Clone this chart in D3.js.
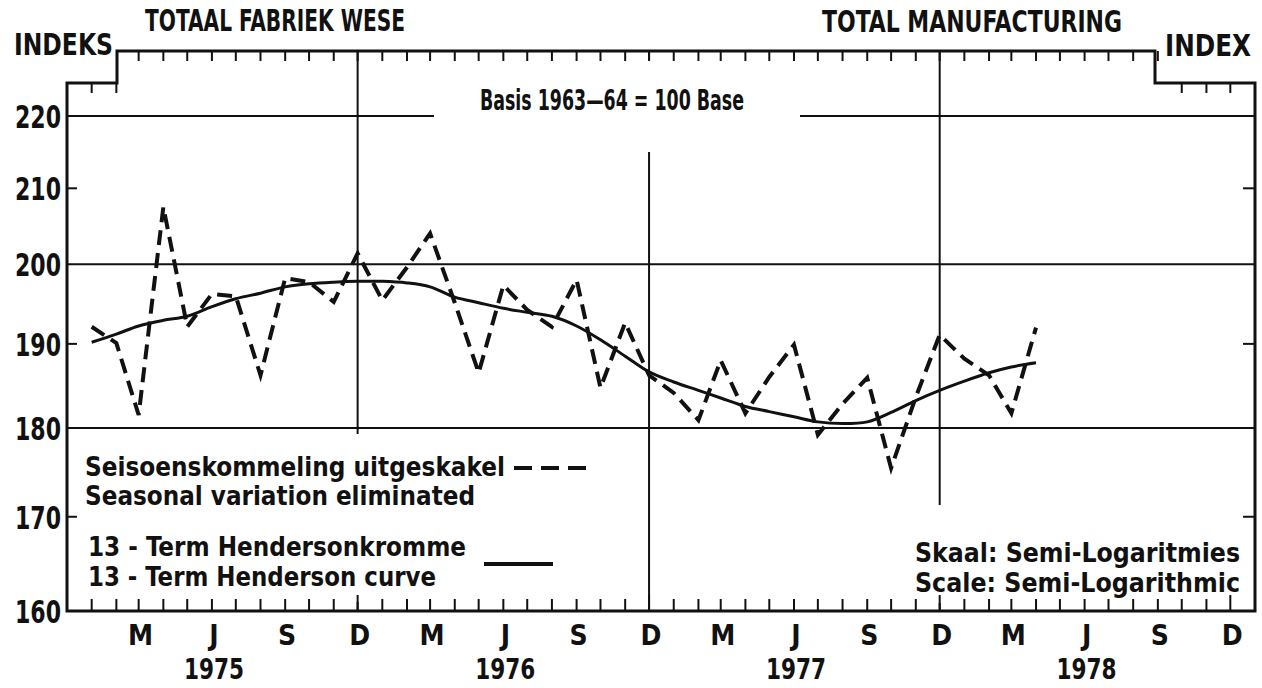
<!DOCTYPE html>
<html>
<head>
<meta charset="utf-8">
<script src="https://cdn.jsdelivr.net/npm/d3@7"></script>
<style>
  body { margin: 0; background: #fff; }
  svg text { font-family: "Liberation Sans Narrow", "DejaVu Sans Condensed", "Roboto", sans-serif; fill: #111; }
</style>
</head>
<body>
<div id="chart"></div>
<script>
// months of the two series (first of month)
const months = ["1975-01","1975-02","1975-03","1975-04","1975-05","1975-06","1975-07","1975-08","1975-09","1975-10","1975-11","1975-12",
  "1976-01","1976-02","1976-03","1976-04","1976-05","1976-06","1976-07","1976-08","1976-09","1976-10","1976-11","1976-12",
  "1977-01","1977-02","1977-03","1977-04","1977-05","1977-06","1977-07","1977-08","1977-09","1977-10","1977-11","1977-12",
  "1978-01","1978-02","1978-03","1978-04"];

// seasonally adjusted index (dashed)
const seasonal = [192.1, 190.1, 181.5, 207.5, 192.1, 196.2, 195.9, 186.2, 198.2, 197.7, 195.2, 201.4,
  195.4, 199.6, 204.0, 195.1, 186.5, 197.3, 194.2, 192.1, 198.0, 184.7, 192.6, 186.2,
  184.1, 180.9, 188.0, 181.7, 186.0, 189.9, 179.2, 182.8, 185.9, 175.4, 183.6, 191.1,
  188.2, 186.2, 181.7, 192.0];

// 13-term Henderson trend (solid)
const henderson = [190.2, 191.2, 192.2, 192.9, 193.4, 194.6, 195.6, 196.3, 197.1, 197.5, 197.7, 197.8,
  197.8, 197.6, 197.1, 195.8, 195.1, 194.4, 193.9, 193.4, 192.2, 190.5, 188.5, 186.6,
  185.4, 184.4, 183.5, 182.5, 181.9, 181.3, 180.7, 180.5, 180.7, 181.8, 183.2, 184.4,
  185.5, 186.5, 187.2, 187.7];

const yTicks = [160, 170, 180, 190, 200, 210, 220];
const yGrid = [180, 200, 220];
const monthLabels = ["M", "J", "S", "D"];
const monthLabelMonths = [2, 5, 8, 11];
const years = [1975, 1976, 1977, 1978];

const parseMonth = d3.timeParse("%Y-%m");
const W = 1262, H = 688;
const plotLeft = 67, plotRight = 1255, plotTop = 51, stepY = 83, plotBottom = 611;

const svg = d3.select("#chart").append("svg")
  .attr("width", W).attr("height", H);

const x = d3.scaleTime()
  .domain([new Date(1974, 11, 1), new Date(1979, 0, 1)])
  .range([plotLeft, plotRight]);
const y = d3.scaleLog()
  .domain([160, 220])
  .range([plotBottom, 116]);

const allMonths = d3.timeMonth.range(new Date(1975, 0, 1), new Date(1979, 0, 1));

// gridlines
const grid = svg.append("g").attr("stroke", "#111").attr("stroke-width", 2);
grid.selectAll("line.h").data(yGrid).enter().append("line")
  .attr("x1", plotLeft).attr("x2", plotRight)
  .attr("y1", d => y(d)).attr("y2", d => y(d));
grid.selectAll("line.v").data(years.slice(0, 3)).enter().append("line")
  .attr("x1", d => x(new Date(d, 11, 1))).attr("x2", d => x(new Date(d, 11, 1)))
  .attr("y1", plotTop).attr("y2", plotBottom);

// white boxes behind the texts
const boxes = [
  { x: 434, y: 60, w: 366, h: 92 },
  { x: 70, y: 434, w: 530, h: 168 },
  { x: 902, y: 505, w: 345, h: 98 }
];
svg.selectAll("rect.box").data(boxes).enter().append("rect")
  .attr("x", d => d.x).attr("y", d => d.y).attr("width", d => d.w).attr("height", d => d.h)
  .attr("fill", "#fff");

// frame
svg.append("path")
  .attr("d", `M${plotLeft},${plotBottom}V${stepY}H117V${plotTop}H1155V${stepY}H${plotRight}V${plotBottom}Z`)
  .attr("fill", "none").attr("stroke", "#111").attr("stroke-width", 3);

// month ticks: top and bottom
svg.append("g").selectAll("line").data(allMonths).enter().append("line")
  .attr("x1", d => x(d)).attr("x2", d => x(d))
  .attr("y1", plotBottom).attr("y2", d => plotBottom - (d.getMonth() === 11 ? 16 : 12))
  .attr("stroke", "#111").attr("stroke-width", 2);
const onStep = d => x(d) < 117 || x(d) > 1160;
svg.append("g").selectAll("line").data(allMonths.filter(d => x(d) < plotRight - 5)).enter().append("line")
  .attr("x1", d => x(d)).attr("x2", d => x(d))
  .attr("y1", d => onStep(d) ? stepY : plotTop)
  .attr("y2", d => (onStep(d) ? stepY : plotTop) + 10)
  .attr("stroke", "#111").attr("stroke-width", 2);

// minor y ticks left and right
const minor = yTicks.filter(v => !yGrid.includes(v) && v !== 160);
svg.append("g").selectAll("line").data(minor).enter().append("line")
  .attr("x1", plotLeft).attr("x2", plotLeft + 10).attr("y1", d => y(d)).attr("y2", d => y(d))
  .attr("stroke", "#111").attr("stroke-width", 2);
svg.append("g").selectAll("line").data(minor).enter().append("line")
  .attr("x1", plotRight - 12).attr("x2", plotRight).attr("y1", d => y(d)).attr("y2", d => y(d))
  .attr("stroke", "#111").attr("stroke-width", 2);

// y labels
svg.append("g").selectAll("text").data(yTicks).enter().append("text")
  .attr("x", 61).attr("y", d => y(d) + 12)
  .attr("text-anchor", "end")
  .attr("textLength", 46).attr("lengthAdjust", "spacingAndGlyphs")
  .style("font-size", "32px").style("font-weight", "bold")
  .text(d => d);

// month labels and years
const labelDates = [];
years.forEach(yr => monthLabelMonths.forEach((m, i) => labelDates.push({ date: new Date(yr, m, 1), text: monthLabels[i] })));
svg.append("g").selectAll("text").data(labelDates).enter().append("text")
  .attr("x", d => x(d.date) + 2).attr("y", 645)
  .attr("text-anchor", "middle")
  .style("font-size", "28px").style("font-weight", "bold")
  .text(d => d.text);
svg.append("g").selectAll("text").data(years).enter().append("text")
  .attr("x", d => x(new Date(d, 5, 1)) + 2).attr("y", 679)
  .attr("text-anchor", "middle")
  .attr("textLength", 60).attr("lengthAdjust", "spacingAndGlyphs")
  .style("font-size", "29px").style("font-weight", "bold")
  .text(d => d);

// titles
function label(txt, x0, yb, len, size, weight) {
  svg.append("text").attr("x", x0).attr("y", yb)
    .attr("textLength", len).attr("lengthAdjust", "spacingAndGlyphs")
    .style("font-size", size + "px").style("font-weight", weight || "bold")
    .text(txt);
}
label("TOTAAL FABRIEK WESE", 145, 31, 260, 30);
label("TOTAL MANUFACTURING", 822, 32, 300, 30);
label("INDEKS", 14, 55, 99, 30);
label("INDEX", 1165, 56, 86, 30);
label("Basis 1963\u201464 = 100 Base", 480, 110, 264, 29);

// legend
label("Seisoenskommeling uitgeskakel", 85, 476, 420, 26);
label("Seasonal variation eliminated", 85, 505, 390, 26);
label("13 - Term Hendersonkromme", 88, 556, 378, 26);
label("13 - Term Henderson curve", 88, 586, 348, 26);
label("Skaal: Semi-Logaritmies", 915, 562, 325, 26);
label("Scale: Semi-Logarithmic", 915, 592, 325, 26);

svg.append("line").attr("x1", 514).attr("x2", 592).attr("y1", 468).attr("y2", 468)
  .attr("stroke", "#111").attr("stroke-width", 4).attr("stroke-dasharray", "18,9");
svg.append("line").attr("x1", 484).attr("x2", 553).attr("y1", 564).attr("y2", 564)
  .attr("stroke", "#111").attr("stroke-width", 4);

// series
const dates = months.map(parseMonth);
const line = d3.line().x(d => x(d[0])).y(d => y(d[1]));
const lineSmooth = d3.line().x(d => x(d[0])).y(d => y(d[1])).curve(d3.curveCatmullRom);

svg.append("path")
  .datum(d3.zip(dates, henderson))
  .attr("fill", "none").attr("stroke", "#111").attr("stroke-width", 3)
  .attr("d", lineSmooth);

svg.append("path")
  .datum(d3.zip(dates, seasonal))
  .attr("fill", "none").attr("stroke", "#111").attr("stroke-width", 4)
  .attr("stroke-dasharray", "15,8")
  .attr("stroke-linejoin", "miter")
  .attr("d", line);
</script>
</body>
</html>
